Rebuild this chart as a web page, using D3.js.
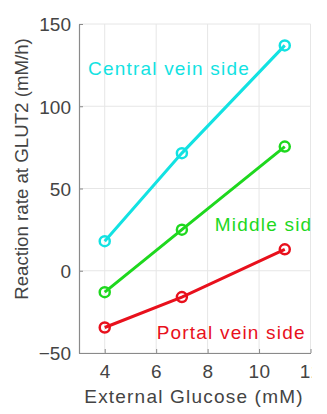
<!DOCTYPE html>
<html>
<head>
<meta charset="utf-8">
<script src="https://cdn.jsdelivr.net/npm/d3@7"></script>
<style>
  html, body { margin: 0; padding: 0; background: #fff; }
  svg { display: block; }
  text { font-family: "Liberation Sans", Arial, Helvetica, sans-serif; }
</style>
</head>
<body>
<div id="chart"></div>
<script>
// glucose levels (mM)
const glucose = [4, 7, 11];

// reaction rate at GLUT2 (mM/h) per zone
const centralRate = [18, 71.5, 137];
const middleRate = [-13, 25, 75.5];
const portalRate = [-34.5, -16, 13];

const seriesNames = ['Central vein side', 'Middle side', 'Portal vein side'];
const seriesColors = ['#12e2e2', '#1ed81e', '#e8101c'];

const xTicks = [4, 6, 8, 10, 12];
const yTicks = [-50, 0, 50, 100, 150];

const W = 327, H = 414;
const margin = {top: 24, right: 16.5, bottom: 61, left: 79};

// the reference is cut on the right at ~312px
const svg = d3.select('#chart').append('svg')
  .attr('width', 312)
  .attr('height', H);

const x = d3.scaleLinear().domain([3, 12]).range([margin.left, W - margin.right]);
const y = d3.scaleLinear().domain([-50, 150]).range([H - margin.bottom, margin.top]);

// grid
svg.append('g').selectAll('line')
  .data(xTicks)
  .enter().append('line')
  .attr('x1', d => x(d)).attr('x2', d => x(d))
  .attr('y1', y(-50)).attr('y2', y(150))
  .attr('stroke', '#e6e6e6').attr('stroke-width', 1);

svg.append('g').selectAll('line')
  .data(yTicks)
  .enter().append('line')
  .attr('x1', x(3)).attr('x2', x(12))
  .attr('y1', d => y(d)).attr('y2', d => y(d))
  .attr('stroke', '#e6e6e6').attr('stroke-width', 1);

// axes (matlab style, ticks pointing in)
const xAxis = svg.append('g')
  .attr('transform', `translate(0,${y(-50)})`)
  .call(d3.axisBottom(x).tickValues(xTicks).tickSize(-4).tickPadding(12).tickSizeOuter(0));

const yAxis = svg.append('g')
  .attr('transform', `translate(${x(3)},0)`)
  .call(d3.axisLeft(y).tickValues(yTicks).tickSize(-4).tickPadding(8).tickSizeOuter(0));

[xAxis, yAxis].forEach(a => {
  a.select('.domain').attr('stroke', '#8a8a8a').attr('stroke-width', 1.2);
  a.selectAll('.tick line').attr('stroke', '#8a8a8a');
  a.selectAll('.tick text')
    .attr('font-size', '19px')
    .attr('fill', '#444');
});
yAxis.selectAll('.tick text').attr('dy', '0.36em');
xAxis.selectAll('.tick text').attr('dy', '0.71em').attr('letter-spacing', '0.6px');

// axis titles
svg.append('text')
  .attr('x', 194)
  .attr('y', 403)
  .attr('text-anchor', 'middle')
  .attr('font-size', '19px')
  .attr('letter-spacing', '1.2px')
  .attr('fill', '#444')
  .text('External Glucose (mM)');

svg.append('text')
  .attr('transform', 'translate(28,169) rotate(-90)')
  .attr('text-anchor', 'middle')
  .attr('font-size', '18.7px')
  .attr('fill', '#444')
  .text('Reaction rate at GLUT2 (mM/h)');

// series
const series = [centralRate, middleRate, portalRate];
const line = d3.line().x((d, i) => x(glucose[i])).y(d => y(d));

series.forEach((vals, k) => {
  const g = svg.append('g');
  g.append('path')
    .datum(vals)
    .attr('d', line)
    .attr('fill', 'none')
    .attr('stroke', seriesColors[k])
    .attr('stroke-width', 3);
  g.selectAll('circle')
    .data(vals)
    .enter().append('circle')
    .attr('cx', (d, i) => x(glucose[i]))
    .attr('cy', d => y(d))
    .attr('r', 5)
    .attr('fill', 'none')
    .attr('stroke', seriesColors[k])
    .attr('stroke-width', 2.5);
});

// labels, anchored in data coords
const labelAt = [[3.35, 119], [8.28, 24.2], [6.02, -41.5]];
seriesNames.forEach((name, k) => {
  svg.append('text')
    .attr('x', x(labelAt[k][0]))
    .attr('y', y(labelAt[k][1]))
    .attr('font-size', '19px')
    .attr('letter-spacing', '1.2px')
    .attr('fill', seriesColors[k])
    .text(name);
});
</script>
</body>
</html>
